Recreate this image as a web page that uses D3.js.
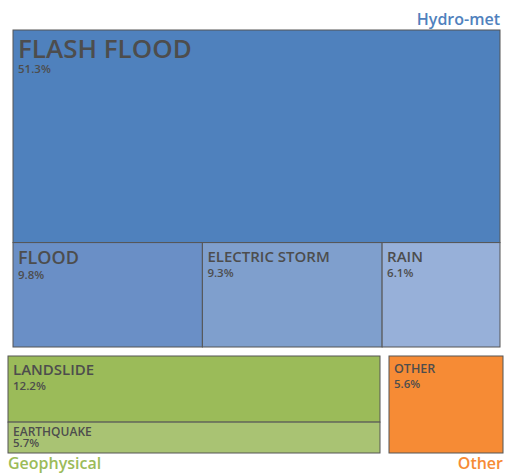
<!DOCTYPE html>
<html>
<head>
<meta charset="utf-8">
<script src="https://cdn.jsdelivr.net/npm/d3@7"></script>
<style>
  html, body { margin: 0; padding: 0; background: #fff; }
  svg { display: block; font-family: "Open Sans", "Noto Sans", sans-serif; }
</style>
</head>
<body>
<svg id="chart" width="505" height="473"></svg>
<script>
// Share of disaster events by type (%)
const hydroNames = ["FLASH FLOOD", "FLOOD", "ELECTRIC STORM", "RAIN"];
const hydroValues = [51.3, 9.8, 9.3, 6.1];
const geoNames = ["LANDSLIDE", "EARTHQUAKE"];
const geoValues = [12.2, 5.7];
const otherNames = ["OTHER"];
const otherValues = [5.6];
const groupNames = ["Hydro-met", "Geophysical", "Other"];

const svg = d3.select("#chart");
const textColor = "#4d4d4d";
const strokeColor = "#555";

const fills = {
  "FLASH FLOOD": "#4f81bd",
  "FLOOD": "#6a8fc6",
  "ELECTRIC STORM": "#7f9fcd",
  "RAIN": "#97b0d9",
  "LANDSLIDE": "#9bbb59",
  "EARTHQUAKE": "#a9c373",
  "OTHER": "#f68b35"
};
const labelSize = {
  "FLASH FLOOD": 26,
  "FLOOD": 18,
  "ELECTRIC STORM": 15,
  "RAIN": 15,
  "LANDSLIDE": 15,
  "EARTHQUAKE": 12,
  "OTHER": 12.5
};
const groupColors = ["#4f81bd", "#9bbb59", "#f68b35"];

const fmt = v => d3.format(".1f")(v) + "%";

// Tiling: stack by depth — slice at even depths, dice at odd depths
function tileByDepth(parent, x0, y0, x1, y1) {
  (parent.depth % 2 === 0 ? d3.treemapSlice : d3.treemapDice)(parent, x0, y0, x1, y1);
}

function drawGroup(tree, box) {
  const root = d3.hierarchy(tree).sum(d => d.value || 0);
  d3.treemap()
    .size([box[2] - box[0], box[3] - box[1]])
    .tile(tileByDepth)
    .round(false)(root);

  const g = svg.append("g").attr("transform", `translate(${box[0]},${box[1]})`);
  const leaves = g.selectAll("g.cell")
    .data(root.leaves())
    .join("g")
    .attr("class", "cell")
    .attr("transform", d => `translate(${d.x0},${d.y0})`);

  leaves.append("rect")
    .attr("width", d => d.x1 - d.x0)
    .attr("height", d => d.y1 - d.y0)
    .attr("fill", d => fills[d.data.name])
    .attr("stroke", strokeColor)
    .attr("stroke-width", 1);

  leaves.each(function (d) {
    const fs = labelSize[d.data.name];
    const h = d.y1 - d.y0;
    const cell = d3.select(this);
    // value line sits under the name; squeeze both up in short cells
    const pctBase = Math.min(7 + fs * 0.8 + 15, h - 6);
    const nameBase = Math.min(7 + fs * 0.8, pctBase - 11);
    cell.append("text")
      .attr("x", 5)
      .attr("y", nameBase)
      .attr("font-size", fs)
      .attr("font-weight", 600)
      .attr("fill", textColor)
      .text(d.data.name);
    cell.append("text")
      .attr("x", 5)
      .attr("y", pctBase)
      .attr("font-size", 11.5)
      .attr("font-weight", 600)
      .attr("fill", textColor)
      .text(fmt(d.data.value));
  });
}

// Hydro-met: the largest type across the top, the rest in a row beneath it
drawGroup({
  children: [
    { name: hydroNames[0], value: hydroValues[0] },
    { children: hydroNames.slice(1).map((n, i) => ({ name: n, value: hydroValues[i + 1] })) }
  ]
}, [13, 30, 500, 347]);

drawGroup({
  children: geoNames.map((n, i) => ({ name: n, value: geoValues[i] }))
}, [8, 356, 380, 453]);

drawGroup({
  children: otherNames.map((n, i) => ({ name: n, value: otherValues[i] }))
}, [389, 356, 503, 453]);

// Group captions
const caption = [
  { x: 500, y: 25, anchor: "end" },
  { x: 8, y: 469, anchor: "start" },
  { x: 503, y: 469, anchor: "end" }
];
svg.selectAll("text.group")
  .data(groupNames)
  .join("text")
  .attr("class", "group")
  .attr("x", (d, i) => caption[i].x)
  .attr("y", (d, i) => caption[i].y)
  .attr("text-anchor", (d, i) => caption[i].anchor)
  .attr("font-size", 16)
  .attr("font-weight", 600)
  .attr("fill", (d, i) => groupColors[i])
  .text(d => d);
</script>
</body>
</html>
